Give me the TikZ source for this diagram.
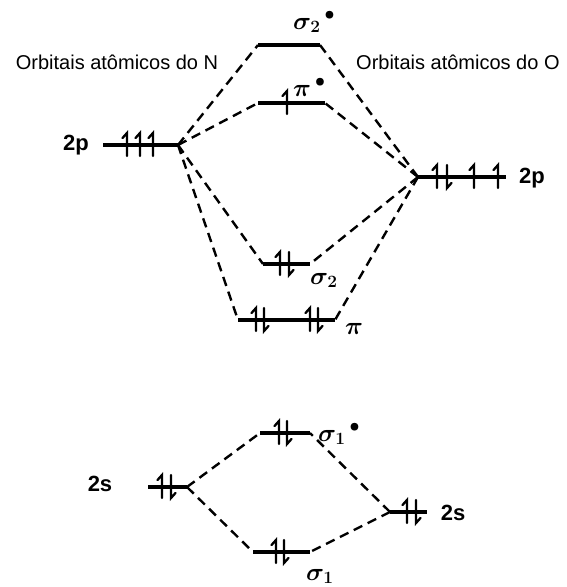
\documentclass[tikz,border=0pt]{standalone}
\usepackage{fontspec}
\usepackage{bm}
\setmainfont{Liberation Sans}
\begin{document}
\begin{tikzpicture}[x=1pt,y=-1pt,
  level/.style={line width=3.5pt},
  conn/.style={line width=2.4pt,dash pattern=on 9.5pt off 6pt},
  lbl/.style={font=\bfseries\fontsize{22}{22}\selectfont,inner sep=0pt},
  glbl/.style={font=\fontsize{26}{26}\selectfont,inner sep=0pt,anchor=base west},
  ttl/.style={font=\fontsize{20}{20}\selectfont,inner sep=0pt},
  eup/.pic={\draw[line width=2.3pt,line cap=round] (0,11) -- (0,-12) -- (-4.5,-7);},
  edn/.pic={\draw[line width=2.3pt,line cap=round] (0,-12) -- (0,11) -- (4.5,6);}
]
\useasboundingbox (0,0) rectangle (566,587);

% titles
\node[ttl] (tN) at (117,62) {Orbitais atômicos do N};
\node[ttl,anchor=west] (tO) at (356,62) {Orbitais atômicos do O};

% level endpoints
\coordinate (NpL) at (103,145); \coordinate (NpR) at (178,145);
\coordinate (OpL) at (418,177); \coordinate (OpR) at (506,177);
\coordinate (sssL) at (258,45); \coordinate (sssR) at (320,45);
\coordinate (pisL) at (258,103); \coordinate (pisR) at (325,103);
\coordinate (ssL) at (263,264); \coordinate (ssR) at (310,264);
\coordinate (piL) at (238,320); \coordinate (piR) at (335,320);
\coordinate (s1sL) at (260,433); \coordinate (s1sR) at (310,433);
\coordinate (NsL) at (148,487); \coordinate (NsR) at (187,487);
\coordinate (OsL) at (390,512); \coordinate (OsR) at (427,512);
\coordinate (s1L) at (253,552); \coordinate (s1R) at (310,552);

% levels
\foreach \a/\b in {NpL/NpR,OpL/OpR,sssL/sssR,pisL/pisR,ssL/ssR,piL/piR,s1sL/s1sR,NsL/NsR,OsL/OsR,s1L/s1R}
  \draw[level] (\a) -- (\b);

% connectors
\draw[conn] (NpR) -- (sssL);
\draw[conn] (NpR) -- (pisL);
\draw[conn] (NpR) -- (ssL);
\draw[conn] (NpR) -- (piL);
\draw[conn] (OpL) -- (sssR);
\draw[conn] (OpL) -- (pisR);
\draw[conn] (OpL) -- (ssR);
\draw[conn] (OpL) -- (piR);
\draw[conn] (NsR) -- (s1sL);
\draw[conn] (NsR) -- (s1L);
\draw[conn] (OsL) -- (s1sR);
\draw[conn] (OsL) -- (s1R);

% electrons
\pic at (127,145) {eup}; \pic at (140,145) {eup}; \pic at (153,145) {eup};
\pic at (437,177) {eup}; \pic at (447,177) {edn};
\pic at (474,177) {eup}; \pic at (498,177) {eup};
\pic at (287,103) {eup};
\pic at (280,264) {eup}; \pic at (289,264) {edn};
\pic at (256,320) {eup}; \pic at (264,320) {edn};
\pic at (310,320) {eup}; \pic at (318,320) {edn};
\pic at (279,433) {eup}; \pic at (287,433) {edn};
\pic at (162,487) {eup}; \pic at (171,487) {edn};
\pic at (407,512) {eup}; \pic at (416,512) {edn};
\pic at (276,552) {eup}; \pic at (284,552) {edn};

% labels
\node[lbl] (l2pN) at (76,145) {2p};
\node[lbl] (l2pO) at (532,178) {2p};
\node[lbl] (l2sN) at (100,484) {2s};
\node[lbl] (l2sO) at (453,513) {2s};
\node[glbl] (lsss) at (293,29) {$\bm{\sigma_2}\,{}^{\bm{\bullet}}$};
\node[glbl] (lpis) at (293,96) {$\bm{\pi}\,{}^{\bm{\bullet}}$};
\node[glbl] (lss) at (310,284) {$\bm{\sigma_2}$};
\node[glbl] (lpi) at (345,334) {$\bm{\pi}$};
\node[glbl] (ls1s) at (318,441) {$\bm{\sigma_1}\,{}^{\bm{\bullet}}$};
\node[glbl] (ls1) at (306,580) {$\bm{\sigma_1}$};
\end{tikzpicture}
\end{document}
